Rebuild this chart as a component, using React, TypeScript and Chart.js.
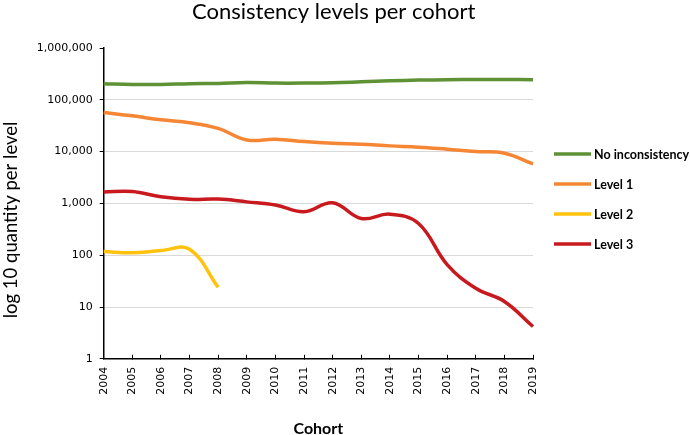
import React, { useEffect, useRef } from "react";
import { Chart, registerables } from "chart.js";

Chart.register(...registerables);

const cohorts = ["2004","2005","2006","2007","2008","2009","2010","2011","2012","2013","2014","2015","2016","2017","2018","2019"];
const noInconsistency = [205000, 198000, 198000, 204000, 207000, 215000, 210000, 210000, 213000, 222000, 232000, 240000, 244000, 247000, 247000, 244000];
const level1 = [57000, 49000, 41000, 36000, 28000, 16800, 17300, 15600, 14500, 13900, 12900, 12200, 11100, 10000, 9300, 5800];
const level2 = [118, 111, 123, 130, 24, null, null, null, null, null, null, null, null, null, null, null];
const level3 = [1660, 1700, 1340, 1200, 1210, 1070, 930, 690, 1030, 510, 620, 410, 66, 23, 12.8, 4.2];
const yTicks = [1, 10, 100, 1000, 10000, 100000, 1000000];

const seriesNames = ["No inconsistency", "Level 1", "Level 2", "Level 3"];
const seriesColors = ["#5E9234", "#F58634", "#FFC20E", "#C81A1E"];

const sideLegend = {
  id: "sideLegend",
  afterDraw(chart: any) {
    const { ctx, chartArea } = chart;
    ctx.save();
    chart.data.datasets.forEach((ds: any, i: number) => {
      const y = chartArea.top + 106 + i * 30;
      const x0 = chartArea.right + 21;
      ctx.strokeStyle = ds.borderColor;
      ctx.lineWidth = 3.5;
      ctx.lineCap = "butt";
      ctx.beginPath();
      ctx.moveTo(x0, y);
      ctx.lineTo(x0 + 37, y);
      ctx.stroke();
      ctx.fillStyle = "#000";
      ctx.font = "bold 12.5px Lato";
      ctx.textBaseline = "middle";
      ctx.textAlign = "left";
      ctx.fillText(ds.label, x0 + 40, y + 0.5);
    });
    ctx.restore();
  },
};

export default function App() {
  const ref = useRef<HTMLCanvasElement | null>(null);
  useEffect(() => {
    if (!ref.current) return;
    const values = [noInconsistency, level1, level2, level3];
    const chart = new Chart(ref.current, {
      type: "line",
      data: {
        labels: cohorts,
        datasets: values.map((v, i) => ({
          label: seriesNames[i],
          data: v,
          borderColor: seriesColors[i],
          backgroundColor: seriesColors[i],
          borderWidth: 3.5,
          pointRadius: 0,
          tension: 0.4,
          fill: false,
          yAxisID: "y",
        })),
      },
      plugins: [sideLegend],
      options: {
        animation: false,
        responsive: true,
        maintainAspectRatio: false,
        layout: { padding: { left: 0, right: 0, top: 0, bottom: 0 } },
        plugins: {
          tooltip: { enabled: false },
          legend: { display: false },
          title: {
            display: true,
            text: "Consistency levels per cohort    ",
            color: "#000",
            font: { family: "Lato", size: 22, weight: "normal" },
            padding: { top: -1, bottom: 22.6 },
          },
        },
        scales: {
          x: {
            type: "category",
            offset: false,
            grid: { display: true, drawOnChartArea: false, drawTicks: true, tickLength: -4, tickColor: "#000" },
            border: { display: true, color: "#000", width: 1.5 },
            ticks: {
              minRotation: 90,
              maxRotation: 90,
              autoSkip: false,
              padding: 12,
              color: "#000",
              font: { family: "DejaVu Sans", size: 11 },
            },
            title: {
              display: true,
              text: "Cohort",
              color: "#000",
              font: { family: "Lato", size: 16, weight: "bold" },
              padding: { top: 12, bottom: -3 },
            },
          },
          y: {
            type: "logarithmic",
            position: "left",
            min: 1,
            max: 1000000,
            afterBuildTicks: (axis: any) => {
              axis.ticks = yTicks.map((v) => ({ value: v }));
            },
            grid: {
              color: (c: any) => (c.tick && c.tick.value === 1000000 ? "rgba(0,0,0,0)" : "#D9D9D9"),
              lineWidth: 1,
              drawTicks: true,
              tickLength: 4,
              tickColor: "#000",
            },
            border: { display: true, color: "#000", width: 1.5 },
            ticks: {
              padding: 7,
              color: "#000",
              font: { family: "DejaVu Sans", size: 11 },
              callback: (v: any) => Number(v).toLocaleString("en-US"),
            },
            title: {
              display: true,
              text: "log 10 quantity per level       ",
              color: "#000",
              font: { family: "Lato", size: 18.5, weight: "normal" },
              padding: { top: 0, bottom: 7.5 },
            },
          },
          legendSpace: {
            type: "linear",
            position: "right",
            display: true,
            grid: { display: false },
            border: { display: false },
            ticks: { display: false },
            afterFit: (axis: any) => {
              axis.width = 157;
            },
          },
        },
      },
    });
    return () => chart.destroy();
  }, []);
  return (
    <div style={{ position: "absolute", left: 0, top: 0, width: 690, height: 435, background: "#fff" }}>
      <canvas ref={ref} />
    </div>
  );
}
